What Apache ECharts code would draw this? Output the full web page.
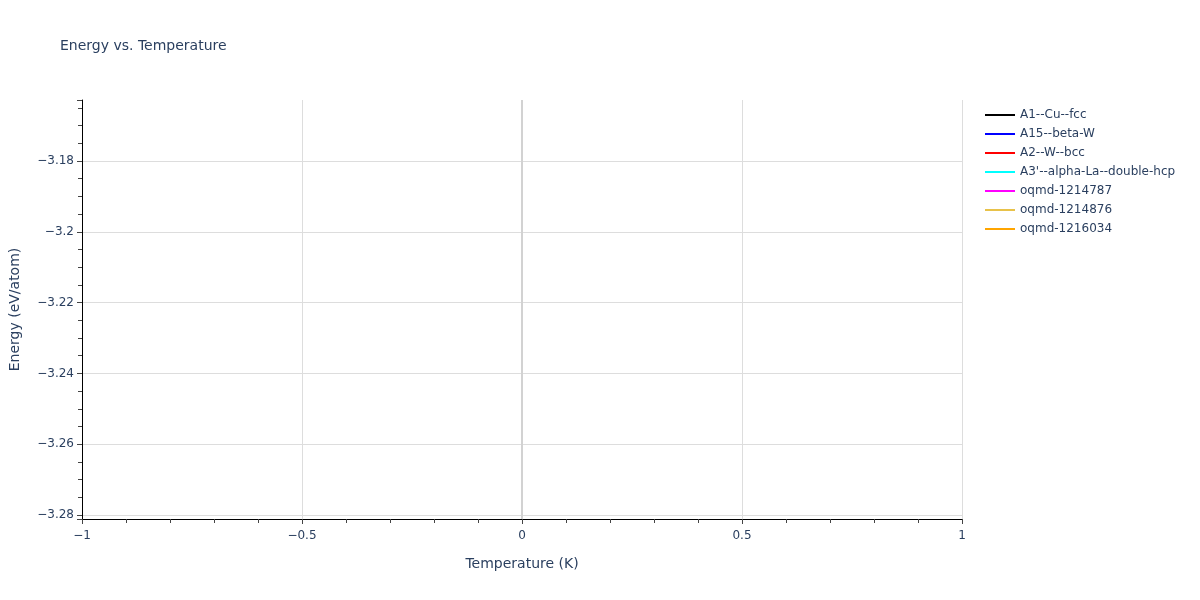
<!DOCTYPE html>
<html><head><meta charset="utf-8">
<script src="https://cdn.jsdelivr.net/npm/echarts@6/dist/echarts.min.js"></script>
<style>html,body{margin:0;padding:0;background:#fff}#c{width:1200px;height:600px}</style>
</head><body><div id="c"></div>
<script>
const seriesNames = ["A1--Cu--fcc","A15--beta-W","A2--W--bcc","A3'--alpha-La--double-hcp","oqmd-1214787","oqmd-1214876","oqmd-1216034"];
const seriesColors = ["#000000","#0000ff","#ff0000","#00ffff","#ff00ff","#e8c24a","#ffa500"];
// no visible line segments in the reference (single-temperature data)
const seriesData = [[],[],[],[],[],[],[]];
const xRange = [-1, 1];
const yRange = [-3.2811, -3.1628];

const FONT = 'DejaVu Sans, Verdana, sans-serif';
const fmt = v => { const r = parseFloat(v.toFixed(4)); return (r < 0 ? '\u2212' : '') + Math.abs(r); };
const txt = '#2a3f5f';
const chart = echarts.init(document.getElementById('c'));
const series = seriesNames.map((n, i) => ({
  name: n, type: 'line', data: seriesData[i], showSymbol: false,
  lineStyle: {color: seriesColors[i], width: 2}, itemStyle: {color: seriesColors[i]}
}));
series.push({
  type: 'line', data: [], silent: true,
  markLine: {silent: true, symbol: 'none', label: {show: false},
    lineStyle: {color: '#d2d2d2', width: 2, type: 'solid'}, data: [{xAxis: 0}]}
});
chart.setOption({
  animation: false,
  title: {text: 'Energy vs. Temperature', left: 55, top: 34,
    textStyle: {fontFamily: FONT, fontSize: 14, fontWeight: 'normal', color: txt}},
  legend: {orient: 'vertical', left: 980, top: 103, itemWidth: 30, itemHeight: 2, itemGap: 5, icon: 'rect',
    textStyle: {fontFamily: FONT, fontSize: 12, color: txt, lineHeight: 14}, data: seriesNames},
  grid: {left: 82, right: 238, top: 100, bottom: 81, containLabel: false},
  xAxis: {type: 'value', min: xRange[0], max: xRange[1], interval: 0.5,
    name: 'Temperature (K)', nameLocation: 'middle', nameGap: 38,
    nameTextStyle: {fontFamily: FONT, fontSize: 14, color: txt},
    axisLine: {show: true, onZero: false, lineStyle: {color: '#000', width: 1}},
    axisTick: {show: true, length: 5, lineStyle: {color: '#444'}},
    minorTick: {show: true, splitNumber: 5, length: 4, lineStyle: {color: '#444'}},
    axisLabel: {formatter: fmt, fontFamily: FONT, fontSize: 12, color: txt, margin: 11},
    splitLine: {show: true, lineStyle: {color: '#dddddd', width: 1}}},
  yAxis: {type: 'value', min: yRange[0], max: yRange[1], splitNumber: 6,
    name: 'Energy (eV/atom)', nameLocation: 'middle', nameGap: 60,
    nameTextStyle: {fontFamily: FONT, fontSize: 14, color: txt},
    axisLine: {show: true, onZero: false, lineStyle: {color: '#000', width: 1}},
    axisTick: {show: true, length: 5, lineStyle: {color: '#444'}},
    minorTick: {show: true, splitNumber: 4, length: 4, lineStyle: {color: '#444'}},
    axisLabel: {formatter: fmt, showMinLabel: false, showMaxLabel: false,
      fontFamily: FONT, fontSize: 12, color: txt, margin: 8},
    splitLine: {show: true, showMinLine: false, showMaxLine: false, lineStyle: {color: '#dddddd', width: 1}}},
  series: series
});
</script></body></html>
